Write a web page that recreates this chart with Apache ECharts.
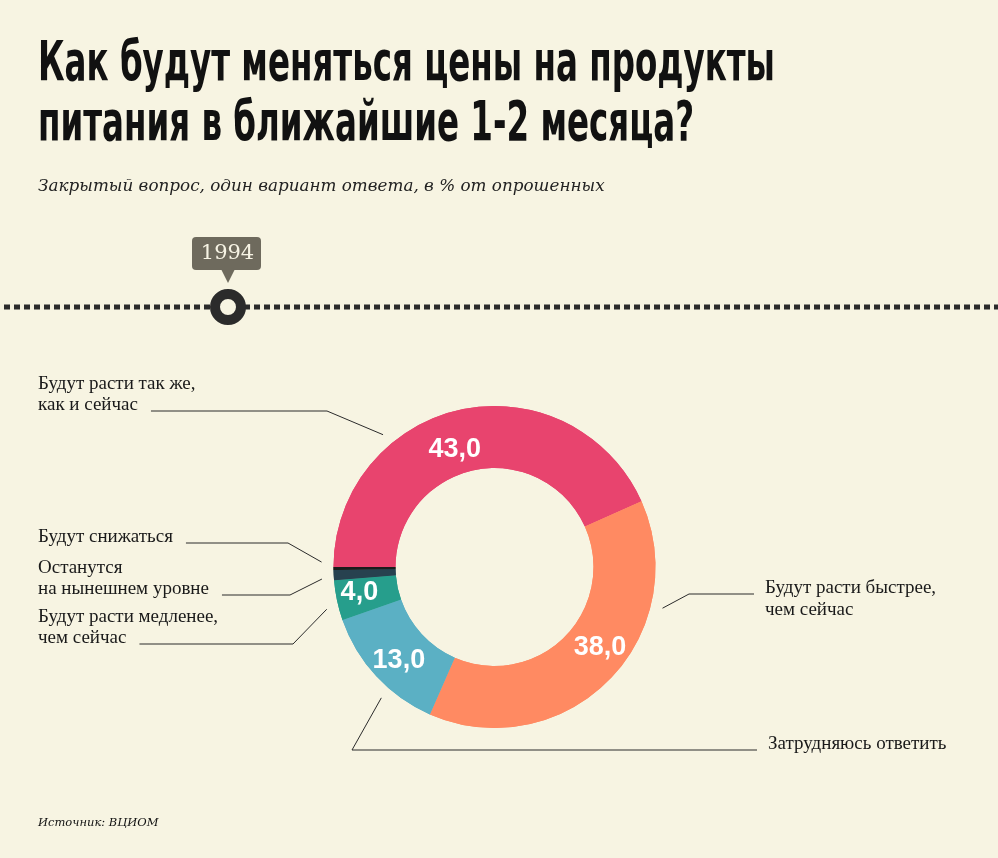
<!DOCTYPE html>
<html>
<head>
<meta charset="utf-8">
<title>Как будут меняться цены на продукты питания</title>
<script src="https://cdn.jsdelivr.net/npm/echarts@6/dist/echarts.min.js"></script>
<style>
    html, body { margin: 0; padding: 0; background: #f7f4e2; }
    #canvas { width: 998px; height: 858px; }
</style>
</head>
<body>
<div id="canvas"></div>
<script type="text/javascript">
    // данные опроса (в % от опрошенных)
    var answers = [
        'Будут расти так же,\nкак и сейчас',
        'Будут расти быстрее,\nчем сейчас',
        'Затрудняюсь ответить',
        'Будут расти медленее,\nчем сейчас',
        'Останутся\nна нынешнем уровне',
        'Будут снижаться'
    ];
    var shares = [43.0, 38.0, 13.0, 4.0, 1.0, 0.3];
    var sliceColors = ['#e8446e', '#ff8a62', '#5bb0c4', '#269e8c', '#27414f', '#1c1c1c'];
    var year = '1994';

    var titleLines = ['Как будут меняться цены на продукты', 'питания в ближайшие 1-2 месяца?'];
    var subtitle = 'Закрытый вопрос, один вариант ответа, в % от опрошенных';
    var source = 'Источник: ВЦИОМ';

    // геометрия кольца
    var cx = 494.5, cy = 567, rIn = 99, rOut = 161, startAngle = 180;
    var labelFont = '"Liberation Serif", serif';
    var labelSize = 19, labelLH = 21.5;
    var narrowFont = '"Liberation Sans Narrow", "DejaVu Sans Condensed", "Liberation Sans", sans-serif';

    // выноски: сторона текста, x текста, y горизонтальной части, x излома, место внутри сектора
    var callouts = [
        { side: 'left',  textX: 38,  lineY: 411, elbowX: 327, frac: 0.32 },
        { side: 'right', textX: 765, lineY: 594, elbowX: 689, frac: 0.275 },
        { side: 'right', textX: 768, lineY: 750, elbowX: 352, frac: 0.365 },
        { side: 'left',  textX: 38,  lineY: 644, elbowX: 293, frac: 0.35 },
        { side: 'left',  textX: 38,  lineY: 595, elbowX: 290, frac: 0.2 },
        { side: 'left',  textX: 38,  lineY: 543, elbowX: 288, frac: 2.5 }
    ];
    // сдвиг цифр внутри кольца
    var valueShift = [[-12, 13], [11, -13], [2, 3], [-5, -2], [0, 0], [0, 0]];

    var ctx = document.createElement('canvas').getContext('2d');
    function textWidth(str, font) {
        ctx.font = font;
        return ctx.measureText(str).width;
    }

    // углы секторов (по часовой стрелке от startAngle)
    var total = shares.reduce(function (s, v) { return s + v; }, 0);
    var sliceStart = [], sliceSpan = [];
    var acc = startAngle;
    shares.forEach(function (v, i) {
        sliceStart[i] = acc;
        sliceSpan[i] = v / total * 360;
        acc -= sliceSpan[i];
    });

    var titleFontCss = 'bold 55px ' + narrowFont;
    var titleScale = 737 / textWidth(titleLines[0], titleFontCss);

    var Dom = document.querySelector('#canvas');
    var myChart = echarts.init(Dom);
    var pieData = answers.map(function (name, i) {
        return { name: name, value: shares[i], itemStyle: { color: sliceColors[i] } };
    });

    var option = {
        backgroundColor: '#f7f4e2',
        animation: false,
        graphic: {
            elements: [
                {
                    type: 'text', x: 38, y: 66, scaleX: titleScale,
                    style: { text: titleLines[0], fontSize: 55, fontWeight: 'bold', fontFamily: narrowFont, fill: '#111', align: 'left', verticalAlign: 'middle' }
                },
                {
                    type: 'text', x: 38, y: 126, scaleX: titleScale,
                    style: { text: titleLines[1], fontSize: 55, fontWeight: 'bold', fontFamily: narrowFont, fill: '#111', align: 'left', verticalAlign: 'middle' }
                },
                {
                    type: 'text', x: 38, y: 187,
                    style: { text: subtitle, fontSize: 16.8, fontStyle: 'italic', fontFamily: '"DejaVu Serif", serif', fill: '#222', align: 'left', verticalAlign: 'middle' }
                },
                // шкала времени
                {
                    type: 'line', z: 1,
                    shape: { x1: 0, y1: 307, x2: 998, y2: 307 },
                    style: { stroke: '#2b2b2b', lineWidth: 5, lineDash: [6, 4], lineDashOffset: -4 }
                },
                {
                    type: 'circle', z: 2,
                    shape: { cx: 228, cy: 307, r: 13 },
                    style: { fill: '#f7f4e2', stroke: '#2b2b2b', lineWidth: 10 }
                },
                {
                    type: 'rect', z: 2,
                    shape: { x: 192, y: 237, width: 69, height: 33, r: 4 },
                    style: { fill: '#6e6a5d' }
                },
                {
                    type: 'polygon', z: 2,
                    shape: { points: [[221, 269], [235, 269], [228, 283]] },
                    style: { fill: '#6e6a5d' }
                },
                {
                    type: 'text', z: 3, x: 227.5, y: 254,
                    style: { text: year, fontSize: 21, fontFamily: '"DejaVu Serif", serif', fill: '#f6f3e4', align: 'center', verticalAlign: 'middle' }
                },
                {
                    type: 'text', x: 38, y: 823,
                    style: { text: source, fontSize: 11.5, fontStyle: 'italic', fontFamily: '"DejaVu Serif", serif', fill: '#111', align: 'left', verticalAlign: 'middle' }
                }
            ]
        },
        series: [
            {
                name: 'доли',
                type: 'pie',
                center: [cx, cy],
                radius: [rIn, rOut],
                startAngle: startAngle,
                clockwise: true,
                silent: true,
                avoidLabelOverlap: false,
                emphasis: { disabled: true },
                label: {
                    show: true,
                    position: 'inside',
                    color: '#fff',
                    fontSize: 27,
                    fontWeight: 'bold',
                    fontFamily: '"Liberation Sans", sans-serif',
                    formatter: function (p) {
                        return p.value >= 2 ? p.value.toFixed(1).replace('.', ',') : '';
                    }
                },
                labelLine: { show: false },
                labelLayout: function (p) {
                    return { dx: valueShift[p.dataIndex][0], dy: valueShift[p.dataIndex][1] };
                },
                data: pieData
            },
            {
                name: 'подписи',
                type: 'pie',
                center: [cx, cy],
                radius: [rIn, rOut],
                startAngle: startAngle,
                clockwise: true,
                silent: true,
                avoidLabelOverlap: false,
                emphasis: { disabled: true },
                itemStyle: { color: 'rgba(0,0,0,0)' },
                label: {
                    show: true,
                    position: 'outside',
                    color: '#1a1a1a',
                    fontSize: labelSize,
                    lineHeight: labelLH,
                    fontFamily: labelFont
                },
                labelLine: { show: true, lineStyle: { color: '#2b2b2b', width: 1 } },
                labelLayout: function (p) {
                    var i = p.dataIndex, c = callouts[i];
                    var ang = (sliceStart[i] - c.frac * sliceSpan[i]) * Math.PI / 180;
                    var p0 = [cx + (rOut + 12) * Math.cos(ang), cy - (rOut + 12) * Math.sin(ang)];
                    var lines = answers[i].split('\n');
                    var mid = c.lineY - 5.6;
                    var endX, y, va;
                    if (c.side === 'left') {
                        endX = c.textX + textWidth(lines[lines.length - 1], labelSize + 'px ' + labelFont) + 13;
                        y = mid + labelLH / 2;
                        va = 'bottom';
                    } else {
                        endX = c.textX - 11;
                        y = mid - labelLH / 2;
                        va = 'top';
                    }
                    return {
                        x: c.textX, y: y, align: 'left', verticalAlign: va,
                        labelLinePoints: [p0, [c.elbowX, c.lineY], [endX, c.lineY]]
                    };
                },
                data: pieData
            }
        ]
    };
    myChart.setOption(option);
</script>
</body>
</html>
